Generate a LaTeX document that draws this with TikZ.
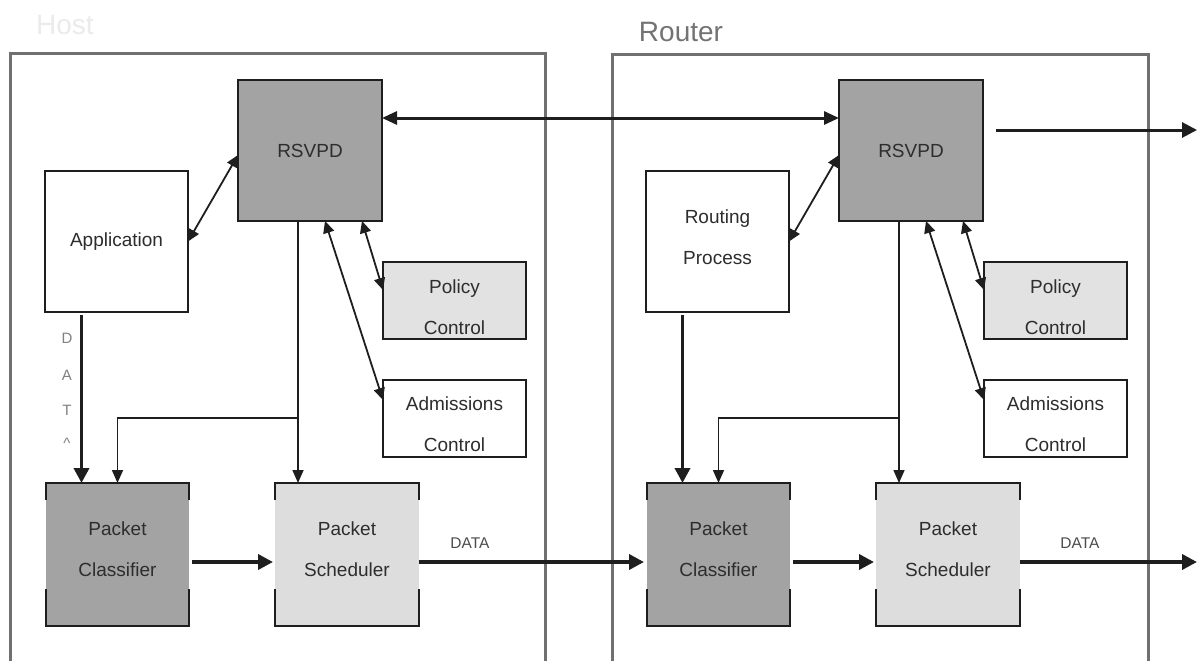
\documentclass[tikz,border=0pt]{standalone}
\usepackage{fontspec}
\setmainfont{Liberation Sans}
\usetikzlibrary{arrows.meta}

\definecolor{ink}{RGB}{30,30,30}
\definecolor{txt}{RGB}{45,45,45}
\definecolor{dark}{RGB}{163,163,163}
\definecolor{pale}{RGB}{226,226,226}
\definecolor{light}{RGB}{221,221,221}
\definecolor{framegray}{RGB}{112,112,112}

% corner-bracket outline used by the packet boxes
\newcommand\bracketframe[1]{%
  \draw[edge] ([yshift=-17pt]#1.north west) -- (#1.north west) -- (#1.north east) -- ([yshift=-17pt]#1.north east);
  \draw[edge] ([yshift=37pt]#1.south west) -- (#1.south west) -- (#1.south east) -- ([yshift=37pt]#1.south east);}

\tikzset{
  frame/.style={draw=framegray, line width=3pt},
  edge/.style={draw=ink, line width=2.2pt, line join=miter},
  box/.style={draw=ink, line width=2.2pt, inner sep=0pt, outer sep=0pt,
              font=\fontsize{19}{41}\selectfont, text=txt, align=center},
  pbox/.style={inner sep=0pt, outer sep=0pt, minimum width=143pt, minimum height=143pt},
  lbl/.style={font=\fontsize{19}{41}\selectfont, text=txt, align=center, inner sep=0pt},
  small/.style={font=\fontsize{15.5}{18}\selectfont, text=black!70, inner sep=0pt},
  vlet/.style={font=\fontsize{15}{17}\selectfont, text=black!50, inner sep=0pt},
  title/.style={font=\fontsize{28}{32}\selectfont, inner sep=0pt},
  thinarrow/.style={draw=ink, line width=1.6pt, -{Triangle[length=13pt,width=11pt]}},
  thickarrow/.style={draw=ink, line width=3.6pt, -{Triangle[length=15pt,width=15pt]}},
  twoway/.style={draw=ink, line width=1.8pt,
                 {Triangle[length=12pt,width=11pt]}-{Triangle[length=12pt,width=11pt]}},
  bigtwo/.style={draw=ink, line width=3pt,
                 {Triangle[length=15pt,width=13pt]}-{Triangle[length=15pt,width=13pt]}},
}

\begin{document}
\begin{tikzpicture}[x=1pt,y=-1pt]
\useasboundingbox[fill=white] (0,0) rectangle (1197,661);

% enclosing frames of the two machines
\draw[frame] (10,661) -- (10,54) -- (545,54) -- (545,661);
\draw[frame] (612,661) -- (612,55) -- (1148,55) -- (1148,661);

\node[title, text=black!8] (host) at (65,25) {Host};
\node[title, text=black!55] (router) at (681,32) {Router};

% ---------------- host side ----------------
\node[box, fill=dark, minimum width=144pt, minimum height=141pt] (rsvpL) at (310,150.5) {RSVPD};
\node[box, fill=white, minimum width=143pt, minimum height=141pt] (app) at (116.5,241.5) {Application};
\node[box, fill=pale, minimum width=143pt, minimum height=77pt] (polL) at (454.5,300.5) {};
\node[lbl] (polLt) at ([yshift=-7pt]polL.center) {Policy\\Control};
\node[box, fill=white, minimum width=143pt, minimum height=77pt] (admL) at (454.5,418.5) {};
\node[lbl] (admLt) at ([yshift=-5.5pt]admL.center) {Admissions\\Control};

\node[pbox, fill=dark] (pcL) at (117.5,554.5) {};
\bracketframe{pcL}
\node[lbl] (pcLt) at ([yshift=5.5pt]pcL.center) {Packet\\Classifier};
\node[pbox, fill=light, minimum width=144pt] (psL) at (347,554.5) {};
\bracketframe{psL}
\node[lbl] (psLt) at ([yshift=5.5pt]psL.center) {Packet\\Scheduler};

% ---------------- router side ----------------
\node[box, fill=dark, minimum width=144pt, minimum height=141pt] (rsvpR) at (911,150.5) {RSVPD};
\node[box, fill=white, minimum width=143pt, minimum height=141pt] (rout) at (717.5,241.5) {};
\node[lbl] (routt) at ([yshift=4.5pt]rout.center) {Routing\\Process};
\node[box, fill=pale, minimum width=143pt, minimum height=77pt] (polR) at (1055.5,300.5) {};
\node[lbl] (polRt) at ([yshift=-7pt]polR.center) {Policy\\Control};
\node[box, fill=white, minimum width=143pt, minimum height=77pt] (admR) at (1055.5,418.5) {};
\node[lbl] (admRt) at ([yshift=-5.5pt]admR.center) {Admissions\\Control};

\node[pbox, fill=dark] (pcR) at (718.5,554.5) {};
\bracketframe{pcR}
\node[lbl] (pcRt) at ([yshift=5.5pt]pcR.center) {Packet\\Classifier};
\node[pbox, fill=light, minimum width=144pt] (psR) at (948,554.5) {};
\bracketframe{psR}
\node[lbl] (psRt) at ([yshift=5.5pt]psR.center) {Packet\\Scheduler};

% ---------------- signalling ----------------
\draw[bigtwo] ([yshift=32.5pt]rsvpL.east) -- ([yshift=32.5pt]rsvpR.west);
\coordinate (ctlOut) at (1197,130);
\draw[thickarrow, line width=3pt] ([xshift=13pt,yshift=20.5pt]rsvpR.east) -- (ctlOut);

\draw[twoway] (app.east) -- ([yshift=-4.5pt]rsvpL.west);
\draw[twoway] ([xshift=52pt]rsvpL.south) -- ([yshift=10.5pt]polL.west);
\draw[twoway] ([xshift=15pt]rsvpL.south) -- ([yshift=18.5pt]admL.west);

\draw[twoway] (rout.east) -- ([yshift=-4.5pt]rsvpR.west);
\draw[twoway] ([xshift=52pt]rsvpR.south) -- ([yshift=10.5pt]polR.west);
\draw[twoway] ([xshift=15pt]rsvpR.south) -- ([yshift=18.5pt]admR.west);

% reservation state pushed down to classifier and scheduler
\draw[thinarrow] ([xshift=-12pt]rsvpL.south) -- ([xshift=-12pt]rsvpL.south |- psL.north);
\coordinate (brL) at (298,418);
\draw[thinarrow] (brL) -| (pcL.north);
\draw[thinarrow] ([xshift=-12pt]rsvpR.south) -- ([xshift=-12pt]rsvpR.south |- psR.north);
\coordinate (brR) at (899,418);
\draw[thinarrow] (brR) -| (pcR.north);

% ---------------- data path ----------------
\draw[thickarrow] ([xshift=-35pt,yshift=-3pt]app.south) -- ([xshift=-35pt]app.south |- pcL.north);
\node[vlet] (dD) at (67,338) {D};
\node[vlet] (dA) at (67,375) {A};
\node[vlet] (dT) at (67,410) {T};
\node[vlet] (dC) at (67,443) {\textasciicircum};
\draw[thickarrow] ([xshift=-35pt,yshift=-3pt]rout.south) -- ([xshift=-35pt]rout.south |- pcR.north);

\draw[thickarrow, shorten <=3pt, shorten >=2pt] ([yshift=-7.5pt]pcL.east) -- ([yshift=-7.5pt]psL.west);
\draw[thickarrow, shorten >=3pt] ([yshift=-7.5pt]psL.east) -- ([yshift=-7.5pt]pcR.west);
\node[small] (dataL) at (470,543) {DATA};
\draw[thickarrow, shorten <=3pt, shorten >=2pt] ([yshift=-7.5pt]pcR.east) -- ([yshift=-7.5pt]psR.west);
\coordinate (dataOut) at (1197,562);
\draw[thickarrow] ([yshift=-7.5pt]psR.east) -- (dataOut);
\node[small] (dataR) at (1080,543) {DATA};
\end{tikzpicture}
\end{document}
